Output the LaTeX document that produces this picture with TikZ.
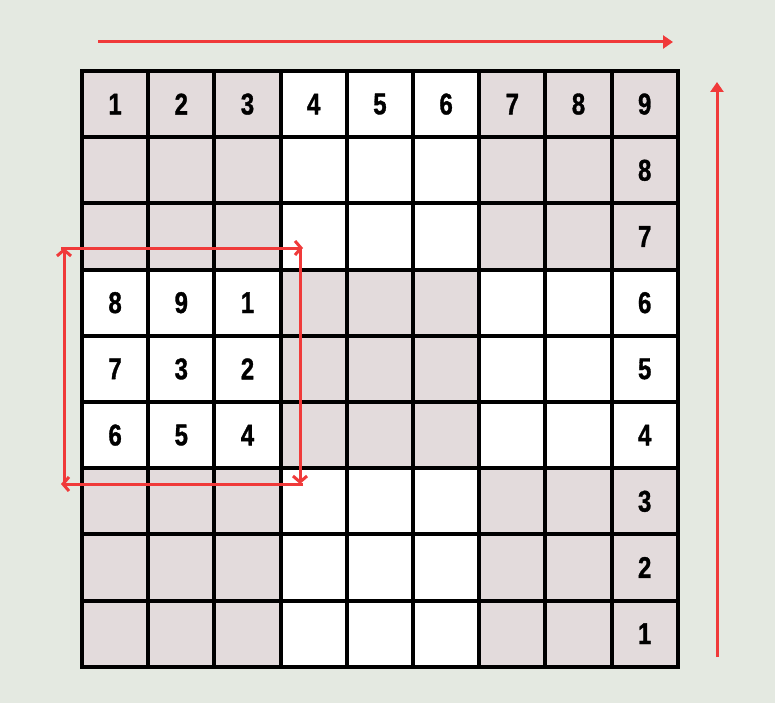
\documentclass[tikz,border=0pt]{standalone}
\usepackage{fontspec}
\setmainfont{Liberation Sans}
\newfontfamily\digitfont[FakeBold=1.2]{Liberation Sans Bold}
\usetikzlibrary{arrows.meta}
\definecolor{bgc}{RGB}{228,233,225}
\definecolor{shadec}{RGB}{227,219,220}
\definecolor{arrc}{RGB}{240,58,58}
\tikzset{
  cellbox/.style={draw=black, line width=4pt, minimum size=66.2pt, inner sep=0pt, outer sep=0pt},
  numtext/.style={font=\digitfont\fontsize{30}{30}\selectfont, inner sep=0pt},
  bigarrow/.style={draw=arrc, line width=3pt, -{Triangle[length=10pt,width=13pt]}},
  looparrow/.style={draw=arrc, line width=3pt, -{Straight Barb[length=6pt,width=14pt]}},
}
\begin{document}
\begin{tikzpicture}[x=1pt,y=-1pt]
\fill[bgc] (0,0) rectangle (775,703);
\useasboundingbox (0,0) rectangle (775,703);
\foreach \r in {0,...,8}{
  \foreach \c in {0,...,8}{
    \pgfmathtruncatemacro\s{mod(int(\r/3)+int(\c/3),2)}
    \ifnum\s=0 \def\fc{shadec}\else\def\fc{white}\fi
    \node[cellbox, fill=\fc] (cell-\r-\c) at ({82+66.2*(\c+0.5)},{71+66.2*(\r+0.5)}) {};
  }
}
\foreach \r/\c/\t in {0/0/1,0/1/2,0/2/3,0/3/4,0/4/5,0/5/6,0/6/7,0/7/8,0/8/9,
  1/8/8,2/8/7,3/8/6,4/8/5,5/8/4,6/8/3,7/8/2,8/8/1,
  3/0/8,3/1/9,3/2/1,4/0/7,4/1/3,4/2/2,5/0/6,5/1/5,5/2/4}{
  \node[numtext] (num-\r-\c) at (cell-\r-\c) {\scalebox{0.8}[1]{\t}};
}
% outer arrows
\coordinate (ha) at (98,42);
\coordinate (hb) at (673,42);
\coordinate (va) at (717,657);
\coordinate (vb) at (717,82);
\draw[bigarrow] (ha) -- (hb);
\draw[bigarrow] (va) -- (vb);
% loop arrows
\coordinate (lb) at (64,484);
\coordinate (lt) at (64,248);
\coordinate (tl) at (61,248);
\coordinate (tr) at (303,248);
\coordinate (rt) at (300,248);
\coordinate (rb) at (300,484);
\coordinate (br) at (303,484);
\coordinate (bl) at (61,484);
\draw[looparrow] (lb) -- (lt);
\draw[looparrow] (tl) -- (tr);
\draw[looparrow] (rt) -- (rb);
\draw[looparrow] (br) -- (bl);
\end{tikzpicture}
\end{document}
